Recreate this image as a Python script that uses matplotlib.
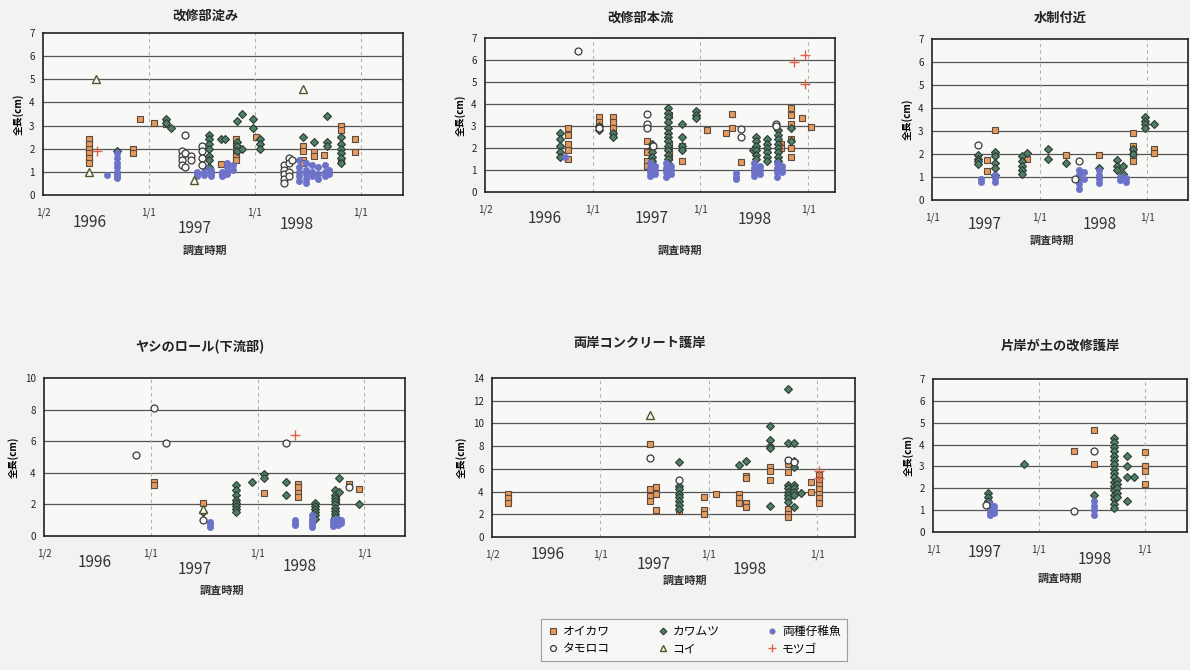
import matplotlib
matplotlib.use('Agg')
import matplotlib.pyplot as plt
from matplotlib.lines import Line2D

plt.rcParams['font.family'] = ['Noto Sans CJK JP', 'DejaVu Sans']

# each series: (survey date as decimal year, [total lengths in cm])
# --- 改修部淀み
p1_oikawa = [(1996.43, [2.4, 2.2, 2.0, 1.8, 1.6, 1.4]), (1996.85, [2.0, 1.8]), (1996.92, [3.3]),
             (1997.05, [3.1]), (1997.16, [3.05]), (1997.68, [1.35]), (1997.82, [2.4, 2.2, 1.9, 1.7, 1.5]),
             (1998.01, [2.5]), (1998.46, [2.1, 1.9, 1.5, 1.4]), (1998.56, [1.85, 1.7]), (1998.65, [1.75]),
             (1998.81, [3.0, 2.8, 1.5]), (1998.95, [2.4, 1.85])]
p1_kawamutsu = [(1996.70, [1.9]), (1997.16, [3.3, 3.1]), (1997.21, [2.9]),
                (1997.57, [2.6, 2.4, 2.2, 2.0, 1.7, 1.5, 1.2]), (1997.68, [2.4]), (1997.72, [2.4]),
                (1997.83, [3.2, 2.3, 2.1, 1.9]), (1997.88, [3.5, 2.0]), (1997.98, [3.3, 2.9]),
                (1998.05, [2.4, 2.2, 2.0]), (1998.46, [2.5]), (1998.56, [2.3]), (1998.68, [3.4, 2.3, 2.1]),
                (1998.81, [2.5, 2.2, 2.0, 1.8, 1.6, 1.4])]
p1_juvenile = [(1996.60, [0.85]), (1996.70, [1.8, 1.6, 1.4, 1.2, 1.0, 0.9, 0.8, 0.75]),
               (1997.45, [1.0, 0.9, 0.8]), (1997.52, [1.2, 1.0, 0.85]), (1997.59, [1.1, 0.9, 0.8]),
               (1997.69, [1.0, 0.85, 0.8]), (1997.74, [1.4, 1.2, 1.0, 0.9]), (1997.79, [1.3, 1.1]),
               (1998.42, [1.5, 1.2, 1.0, 0.8, 0.6]), (1998.48, [1.4, 1.1, 0.9, 0.7, 0.5]),
               (1998.54, [1.3, 1.0, 0.8]), (1998.60, [1.2, 0.9, 0.7]), (1998.66, [1.3, 1.0, 0.8]),
               (1998.70, [1.1, 0.9])]
p1_tamoroko = [(1997.31, [1.9, 1.7, 1.5, 1.3]), (1997.34, [2.6, 1.8, 1.2]), (1997.40, [1.7, 1.5]),
               (1997.50, [2.1, 1.9, 1.6, 1.3]), (1998.28, [1.3, 1.1, 0.9, 0.7, 0.5]),
               (1998.32, [1.6, 1.4, 1.0, 0.8]), (1998.35, [1.5])]
p1_koi = [(1996.43, [1.0]), (1996.50, [5.0]), (1997.43, [0.65]), (1998.46, [4.6])]
p1_motsugo = [(1996.51, [1.9])]

# --- 改修部本流
p2_oikawa = [(1996.77, [2.9, 2.6, 2.2, 1.9, 1.5]), (1997.06, [3.4, 3.2]), (1997.19, [3.4, 3.2, 2.9, 2.6]),
             (1997.50, [2.3, 1.8, 1.4, 1.2]), (1997.71, [3.5, 2.2, 1.8, 1.6]), (1997.83, [2.1, 1.4]),
             (1998.06, [2.8]), (1998.24, [2.7]), (1998.29, [3.55, 2.9]), (1998.38, [1.35]),
             (1998.75, [2.2, 2.0]), (1998.84, [3.8, 3.5, 3.1, 2.4, 2.0, 1.6]), (1998.94, [3.35]),
             (1999.03, [2.95])]
p2_kawamutsu = [(1996.70, [2.7, 2.4, 2.1, 1.8, 1.6]), (1997.06, [3.0, 2.8]), (1997.19, [2.7, 2.5]),
                (1997.55, [2.2, 2.0, 1.8, 1.6, 1.4, 1.2]),
                (1997.70, [3.8, 3.6, 3.4, 3.2, 2.9, 2.7, 2.5, 2.3, 2.1, 1.9, 1.7, 1.5, 1.3]),
                (1997.83, [3.1, 2.5, 2.1, 1.9]), (1997.96, [3.7, 3.5, 3.35]), (1998.49, [1.9]),
                (1998.52, [2.5, 2.3, 2.1, 1.9, 1.7, 1.5]), (1998.62, [2.4, 2.2, 2.0, 1.8, 1.6, 1.4]),
                (1998.72, [2.8, 2.6, 2.4, 2.2, 2.0, 1.8, 1.6, 1.4]), (1998.84, [2.9, 2.3])]
p2_juvenile = [(1996.74, [1.6]), (1997.53, [1.3, 1.1, 0.9, 0.75]), (1997.58, [1.2, 1.0, 0.8]),
               (1997.68, [1.3, 1.1, 0.9, 0.7]), (1997.73, [1.2, 1.0, 0.8]), (1998.33, [0.85, 0.7, 0.6]),
               (1998.50, [1.3, 1.1, 0.9, 0.75]), (1998.55, [1.2, 1.0, 0.8]),
               (1998.71, [1.3, 1.1, 0.9, 0.7]), (1998.76, [1.2, 1.0, 0.9])]
p2_tamoroko = [(1996.86, [6.4]), (1997.06, [2.9]), (1997.50, [3.55, 3.1, 2.9]), (1997.56, [2.1]),
               (1998.38, [2.85, 2.5]), (1998.70, [3.1, 3.0])]
p2_motsugo = [(1998.87, [5.9]), (1998.97, [6.25, 4.9])]

# --- 水制付近
p3_oikawa = [(1997.51, [1.75, 1.25]), (1997.59, [3.05]), (1997.88, [1.8]), (1998.25, [1.95]),
             (1998.55, [1.95]), (1998.87, [2.9, 2.35, 2.1, 1.9, 1.7]), (1999.06, [2.2, 2.05])]
p3_kawamutsu = [(1997.43, [1.95, 1.8, 1.7, 1.55]), (1997.59, [2.1, 1.9, 1.6, 1.4, 1.1]),
                (1997.84, [1.9, 1.7, 1.5, 1.3, 1.15]), (1997.88, [2.05]), (1998.08, [2.2, 1.8]),
                (1998.25, [1.6]), (1998.55, [1.4]), (1998.72, [1.75, 1.5, 1.3]), (1998.78, [1.5, 1.15]),
                (1998.87, [2.2, 2.0]), (1998.98, [3.6, 3.45, 3.3, 3.15]), (1999.06, [3.3])]
p3_juvenile = [(1997.46, [0.9, 0.8]), (1997.59, [1.1, 0.95, 0.8]), (1998.37, [1.3, 1.1, 0.9, 0.7, 0.5]),
               (1998.41, [1.2, 0.9]), (1998.55, [1.3, 1.1, 0.9, 0.75]), (1998.75, [1.0, 0.85]),
               (1998.80, [0.95, 0.8])]
p3_tamoroko = [(1997.43, [2.4]), (1998.33, [0.9]), (1998.37, [1.7])]

# --- ヤシのロール(下流部)
p4_oikawa = [(1997.03, [3.4, 3.2]), (1997.49, [2.1]), (1998.06, [2.7]), (1998.38, [3.3, 3.1, 2.7, 2.5]),
             (1998.73, [2.4, 2.2]), (1998.86, [3.3]), (1998.95, [3.0])]
p4_kawamutsu = [(1997.49, [1.5]), (1997.80, [3.2, 2.9, 2.6, 2.3, 2.1, 1.9, 1.7, 1.5]), (1997.95, [3.4]),
                (1998.06, [3.9, 3.7]), (1998.27, [3.4, 2.6]), (1998.54, [2.1, 1.9, 1.7, 1.5, 1.3, 1.1]),
                (1998.72, [2.9, 2.6, 2.4, 2.2, 2.0, 1.8, 1.6, 1.4, 1.2]), (1998.76, [3.7, 2.8]),
                (1998.95, [2.0])]
p4_juvenile = [(1997.55, [0.9, 0.75, 0.6]), (1998.35, [1.0, 0.85, 0.7]), (1998.51, [1.3, 1.1, 0.9, 0.7, 0.6]),
               (1998.71, [1.0, 0.8, 0.65]), (1998.75, [1.1, 0.9, 0.7]), (1998.78, [1.0, 0.85])]
p4_tamoroko = [(1996.86, [5.1]), (1997.03, [8.1]), (1997.14, [5.9]), (1997.49, [1.0]), (1998.27, [5.9]),
               (1998.86, [3.1])]
p4_koi = [(1997.49, [1.7])]
p4_motsugo = [(1998.35, [6.4])]

# --- 両岸コンクリート護岸
p5_oikawa = [(1996.15, [3.8, 3.4, 3.0]), (1997.46, [8.2, 4.2, 3.6, 3.2]), (1997.51, [4.4, 3.8, 2.4]),
             (1997.73, [2.3]), (1997.96, [3.5, 2.4, 2.0]), (1998.07, [3.8]), (1998.28, [3.8, 3.4, 3.0]),
             (1998.34, [5.4, 5.2, 3.0, 2.6]), (1998.57, [6.2, 5.8, 5.0]), (1998.73, [6.4, 5.7, 2.5, 2.0, 1.8]),
             (1998.94, [4.8, 4.0]), (1999.02, [5.5, 5.0, 4.6, 4.2, 3.8, 3.4, 3.0])]
p5_kawamutsu = [(1997.73, [6.6, 4.5, 4.2, 3.8, 3.5, 3.2, 2.8, 2.5]), (1998.28, [6.3]), (1998.34, [6.7]),
                (1998.57, [9.8, 8.5, 8.0, 7.8, 2.7]), (1998.73, [13.0, 8.3, 4.6, 4.3, 4.0, 3.7, 3.4, 3.1]),
                (1998.79, [8.3, 6.7, 6.2, 4.6, 4.3, 4.0, 3.7, 2.6]), (1998.85, [3.9])]
p5_tamoroko = [(1997.46, [7.0]), (1997.73, [5.0]), (1998.73, [6.8]), (1998.79, [6.6])]
p5_koi = [(1997.46, [10.7])]
p5_motsugo = [(1999.02, [5.8, 5.2])]

# --- 片岸が土の改修護岸
p6_oikawa = [(1998.33, [3.7]), (1998.52, [4.65, 3.1]), (1999.0, [3.65, 3.0, 2.8, 2.2])]
p6_kawamutsu = [(1997.52, [1.8, 1.6, 1.4]), (1997.86, [3.1]), (1998.52, [1.7]),
                (1998.71, [4.3, 4.1, 3.9, 3.7, 3.5, 3.3, 3.1, 2.9, 2.7, 2.5, 2.3, 2.1, 1.9, 1.7, 1.5, 1.3, 1.1]),
                (1998.74, [2.4, 2.2, 2.0, 1.8, 1.6]), (1998.83, [3.5, 3.0, 2.5, 1.4]), (1998.90, [2.5])]
p6_juvenile = [(1997.54, [1.3, 1.1, 0.9, 0.8]), (1997.58, [1.2, 1.0, 0.85]), (1998.52, [1.4, 1.2, 1.0, 0.8])]
p6_tamoroko = [(1997.50, [1.25]), (1998.33, [0.95]), (1998.52, [3.7])]

species = ['オイカワ', 'カワムツ', '両種仔稚魚', 'タモロコ', 'コイ', 'モツゴ']
styles = {
    'オイカワ': dict(marker='s', ms=5, mfc='#e69a5c', mec='#5a4a40', mew=0.8),
    'カワムツ': dict(marker='D', ms=4, mfc='#4f8066', mec='#2e3a36', mew=0.8),
    '両種仔稚魚': dict(marker='o', ms=4.5, mfc='#6c72c8', mec='#6c72c8', mew=0.5),
    'タモロコ': dict(marker='o', ms=5, mfc='#f8f8f6', mec='#3a3a3a', mew=0.9),
    'コイ': dict(marker='^', ms=5.5, mfc='#f8f8f6', mec='#4c5a2a', mew=1.0),
    'モツゴ': dict(marker='+', ms=7, mfc='none', mec='#e0604a', mew=1.0),
}

W, H = 1190, 670
fig = plt.figure(figsize=(W / 100, H / 100), dpi=100)
fig.patch.set_facecolor('#f2f2f0')

# title, (left, right, top, bottom) px, ymax, ystep, x range, year labels (year, xfrac, yfrac),
# xlabel position, title position, series
panels = [
    ('改修部淀み', (43, 403, 33, 195), 7, 1, (1996.0, 1999.40),
     [('1996', 0.13, -0.17), ('1997', 0.42, -0.205), ('1998', 0.705, -0.185)], (0.45, -0.34), (0.45, 1.11),
     [p1_oikawa, p1_kawamutsu, p1_juvenile, p1_tamoroko, p1_koi, p1_motsugo]),
    ('改修部本流', (485, 835, 38, 192), 7, 1, (1996.0, 1999.25),
     [('1996', 0.17, -0.17), ('1997', 0.477, -0.17), ('1998', 0.77, -0.18)], (0.557, -0.377), (0.443, 1.13),
     [p2_oikawa, p2_kawamutsu, p2_juvenile, p2_tamoroko, [], p2_motsugo]),
    ('水制付近', (932, 1188, 39, 200), 7, 1, (1997.0, 1999.38),
     [('1997', 0.207, -0.155), ('1998', 0.656, -0.155)], (0.47, -0.25), (0.5, 1.13),
     [p3_oikawa, p3_kawamutsu, p3_juvenile, p3_tamoroko, [], []]),
    ('ヤシのロール(下流部)', (44, 405, 378, 536), 10, 2, (1996.0, 1999.38),
     [('1996', 0.141, -0.17), ('1997', 0.418, -0.215), ('1998', 0.709, -0.196)], (0.493, -0.342), (0.432, 1.196),
     [p4_oikawa, p4_kawamutsu, p4_juvenile, p4_tamoroko, p4_koi, p4_motsugo]),
    ('両岸コンクリート護岸', (492, 855, 378, 537), 14, 2, (1996.0, 1999.35),
     [('1996', 0.152, -0.113), ('1997', 0.444, -0.176), ('1998', 0.711, -0.207)], (0.532, -0.27), (0.408, 1.22),
     [p5_oikawa, p5_kawamutsu, [], p5_tamoroko, p5_koi, p5_motsugo]),
    ('片岸が土の改修護岸', (933, 1187, 379, 532), 7, 1, (1997.0, 1999.40),
     [('1997', 0.205, -0.137), ('1998', 0.638, -0.183)], (0.5, -0.30), (0.5, 1.22),
     [p6_oikawa, p6_kawamutsu, p6_juvenile, p6_tamoroko, [], []]),
]


def expand(groups):
    xs, ys = [], []
    for x, vals in groups:
        for v in vals:
            xs.append(x)
            ys.append(v)
    return xs, ys


for title, (l, r, t, b), ymax, ystep, (x0, x1), years, xlab, tpos, series in panels:
    ax = fig.add_axes([l / W, 1 - b / H, (r - l) / W, (b - t) / H])
    ax.set_facecolor('#f8f8f6')
    for name, groups in zip(species, series):
        if groups:
            xs, ys = expand(groups)
            ax.plot(xs, ys, linestyle='none', zorder=3, **styles[name])
    ax.set_xlim(x0, x1)
    ax.set_ylim(0, ymax)
    ax.set_yticks(range(0, ymax + 1, ystep))
    xt = [x for x in (1996, 1997, 1998, 1999) if x0 <= x <= x1]
    ax.set_xticks(xt)
    ax.set_xticklabels(['1/2' if x == 1996 else '1/1' for x in xt])
    ax.tick_params(axis='x', length=0, pad=9, labelsize=7, colors='#333333')
    ax.tick_params(axis='y', length=0, pad=6, labelsize=7, colors='#222222')
    for y in range(ystep, ymax, ystep):
        ax.axhline(y, color='#555555', lw=0.9, zorder=1)
    for x in xt[1:]:
        ax.axvline(x, color='#b0b0b0', lw=0.8, ls=(0, (3, 3)), zorder=1)
    for s in ax.spines.values():
        s.set_color('#222222')
        s.set_linewidth(1.2)
    ax.set_ylabel('全長(cm)', fontsize=7, fontweight='bold', labelpad=4)
    ax.text(tpos[0], tpos[1], title, transform=ax.transAxes, ha='center', va='center',
            fontsize=9.5, fontweight='bold', color='#222222')
    for label, xf, yf in years:
        ax.text(xf, yf, label, transform=ax.transAxes, ha='center', va='center', fontsize=11, color='#333333')
    ax.text(xlab[0], xlab[1], '調査時期', transform=ax.transAxes, ha='center', va='center',
            fontsize=8, fontweight='bold', color='#333333')

handles = []
order = ['オイカワ', 'タモロコ', 'カワムツ', 'コイ', '両種仔稚魚', 'モツゴ']
for name in order:
    st = dict(styles[name])
    st['ms'] = st['ms'] * 0.85
    handles.append(Line2D([], [], linestyle='none', **st))
leg = fig.legend(handles, order, loc='center', bbox_to_anchor=(694 / W, 1 - 640 / H), ncol=3,
                 fontsize=8.5, frameon=True, fancybox=False, columnspacing=4.0, handletextpad=0.3,
                 borderpad=0.5, labelspacing=0.4, handlelength=1.0)
leg.get_frame().set_edgecolor('#888888')
leg.get_frame().set_facecolor('#f8f8f6')
leg.get_frame().set_linewidth(0.8)

fig.savefig('out.png', dpi=100, facecolor=fig.get_facecolor())
